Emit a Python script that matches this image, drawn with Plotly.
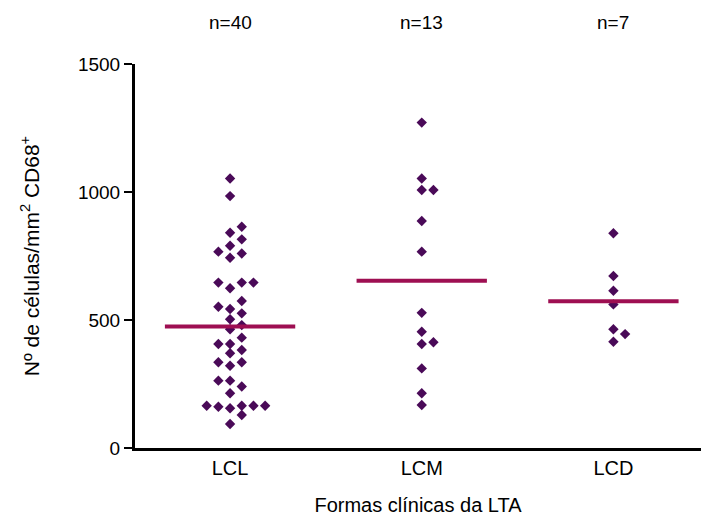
import numpy as np
import plotly.graph_objects as go

categories = ["LCL", "LCM", "LCD"]
lcl_values = [1053, 984, 864, 841, 815, 790, 767, 760, 743, 646, 646, 646, 624,
              574, 552, 543, 526, 503, 480, 464, 431, 406, 406, 383, 370, 335, 335,
              321, 263, 263, 240, 214, 165, 165, 165, 165, 161, 155, 129, 94]
lcm_values = [1271, 1053, 1008, 1008, 887, 767, 528, 454, 413, 406, 311, 214, 168]
lcd_values = [839, 672, 614, 561, 464, 445, 415]
y_ticks = [0, 500, 1000, 1500]

groups = [lcl_values, lcm_values, lcd_values]

MARKER_COLOR = "#4a0a58"
MEAN_COLOR = "#9e0f52"
FONT = "Arial, Liberation Sans, sans-serif"

# deterministic beeswarm layout (column offsets derived from values)
SLOT_W = 0.061
THRESH = 36.0
ORDER = [0, 1, -1, 2, -2, 3, -3, 4, -4, 5, -5]


def swarm(vals):
    placed = {}
    xs = {}
    idx = sorted(range(len(vals)), key=lambda i: vals[i])
    for i in idx:
        v = vals[i]
        for s in ORDER:
            if all(abs(v - w) >= THRESH for w in placed.get(s, [])):
                placed.setdefault(s, []).append(v)
                xs[i] = s * SLOT_W
                break
    return [xs[i] for i in range(len(vals))]


fig = go.Figure()
for gi, vals in enumerate(groups):
    offs = swarm(vals)
    fig.add_trace(go.Scatter(
        x=[gi + o for o in offs], y=vals, mode="markers",
        marker=dict(symbol="diamond", size=8, color=MARKER_COLOR,
                    line=dict(width=0)),
        showlegend=False, hoverinfo="y"))
    m = float(np.mean(vals))
    fig.add_trace(go.Scatter(
        x=[gi - 0.34, gi + 0.34], y=[m, m], mode="lines",
        line=dict(color=MEAN_COLOR, width=4), showlegend=False))
    fig.add_annotation(x=gi, y=1.109, xref="x", yref="paper",
                       text=f"n={len(vals)}", showarrow=False,
                       font=dict(family=FONT, size=19, color="black"),
                       yanchor="middle")

fig.update_layout(
    width=701, height=521,
    margin=dict(l=135, r=0, t=64, b=73),
    plot_bgcolor="white", paper_bgcolor="white",
    font=dict(family=FONT, color="black"),
    xaxis=dict(range=[-0.496, 2.457], tickvals=[0, 1, 2], ticktext=categories,
               showline=True, linewidth=3, linecolor="black", ticks="",
               showgrid=False, zeroline=False,
               tickfont=dict(size=20, family=FONT),
               title=dict(text="Formas clínicas da LTA",
                          font=dict(size=20, family=FONT), standoff=20)),
    yaxis=dict(range=[0, 1500], tickvals=y_ticks,
               showline=True, linewidth=3, linecolor="black",
               ticks="outside", ticklen=8, tickwidth=2, tickcolor="black",
               showgrid=False, zeroline=False,
               tickfont=dict(size=19, family=FONT),
               title=dict(text="Nº de células/mm<sup>2</sup> CD68<sup>+</sup>",
                          font=dict(size=21, family=FONT), standoff=33)),
)

fig.write_html("out.html", config={"displayModeBar": False},
               post_script="document.body.style.margin='0';document.body.style.padding='0';")
